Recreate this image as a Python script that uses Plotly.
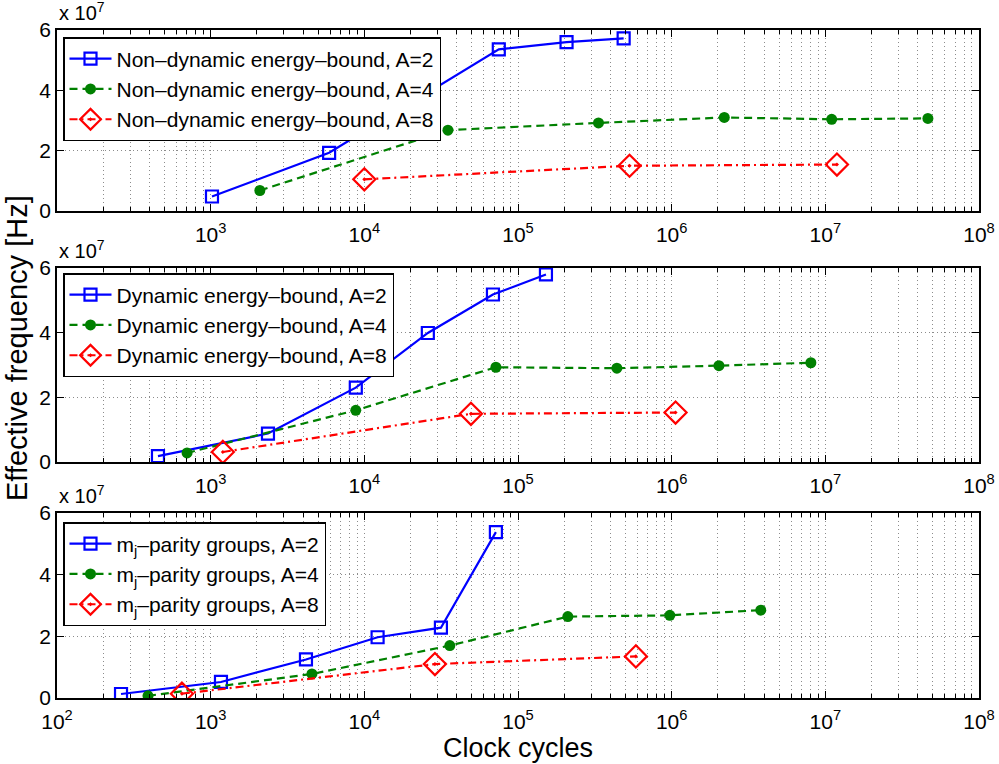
import plotly.graph_objects as go

# ---------------- data (x: clock cycles, y: effective frequency in units of 1e7 Hz)
nd_a2_x = [1020, 5900, 75000, 207000, 487000]
nd_a2_y = [0.48, 1.93, 5.36, 5.60, 5.72]
nd_a4_x = [2090, 35000, 334000, 2.2e6, 1.1e7, 4.65e7]
nd_a4_y = [0.68, 2.68, 2.92, 3.10, 3.04, 3.07]
nd_a8_x = [1.0e4, 532000, 1.19e7]
nd_a8_y = [1.05, 1.50, 1.54]

dy_a2_x = [454, 2360, 8800, 25900, 68700, 152000]
dy_a2_y = [0.18, 0.88, 2.30, 3.99, 5.18, 5.80]
dy_a4_x = [702, 8800, 71800, 440000, 2.03e6, 8.05e6]
dy_a4_y = [0.28, 1.60, 2.93, 2.90, 2.98, 3.07]
dy_a8_x = [1200, 49400, 1.06e6]
dy_a8_y = [0.31, 1.49, 1.53]

mj_a2_x = [261, 1167, 4170, 12200, 31500, 71800]
mj_a2_y = [0.13, 0.52, 1.25, 1.97, 2.28, 5.38]
mj_a4_x = [391, 4560, 36000, 211000, 973000, 3.8e6]
mj_a4_y = [0.07, 0.78, 1.70, 2.64, 2.68, 2.85]
mj_a8_x = [650, 28800, 585000]
mj_a8_y = [0.14, 1.10, 1.35]

names_nd = ["Non\u2013dynamic energy\u2013bound, A=2", "Non\u2013dynamic energy\u2013bound, A=4", "Non\u2013dynamic energy\u2013bound, A=8"]
names_dy = ["Dynamic energy\u2013bound, A=2", "Dynamic energy\u2013bound, A=4", "Dynamic energy\u2013bound, A=8"]
names_mj = ["m<sub>j</sub>\u2013parity groups, A=2", "m<sub>j</sub>\u2013parity groups, A=4", "m<sub>j</sub>\u2013parity groups, A=8"]

y_ticks = [0, 2, 4, 6]
x_decades = [1e2, 1e3, 1e4, 1e5, 1e6, 1e7, 1e8]
x_labels_full = ["10<sup>2</sup>", "10<sup>3</sup>", "10<sup>4</sup>", "10<sup>5</sup>",
                 "10<sup>6</sup>", "10<sup>7</sup>", "10<sup>8</sup>"]
x_labels_top = [""] + x_labels_full[1:]

W, H = 999, 764
FONT = "Liberation Sans, Arial, Helvetica, sans-serif"

BLUE, GREEN, RED = "#0000FF", "#008000", "#FF0000"

fig = go.Figure()

panels = [
    (nd_a2_x, nd_a2_y, nd_a4_x, nd_a4_y, nd_a8_x, nd_a8_y, names_nd, "x", "y", "legend"),
    (dy_a2_x, dy_a2_y, dy_a4_x, dy_a4_y, dy_a8_x, dy_a8_y, names_dy, "x2", "y2", "legend2"),
    (mj_a2_x, mj_a2_y, mj_a4_x, mj_a4_y, mj_a8_x, mj_a8_y, names_mj, "x3", "y3", "legend3"),
]

for (x2, y2, x4, y4, x8, y8, names, xa, ya, lg) in panels:
    fig.add_trace(go.Scatter(x=x2, y=y2, name=names[0], xaxis=xa, yaxis=ya, legend=lg,
                             mode="lines+markers",
                             line=dict(color=BLUE, width=2.2),
                             marker=dict(symbol="square-open", size=12, color=BLUE,
                                         line=dict(width=2.2, color=BLUE))))
    fig.add_trace(go.Scatter(x=x4, y=y4, name=names[1], xaxis=xa, yaxis=ya, legend=lg,
                             mode="lines+markers",
                             line=dict(color=GREEN, width=2.2, dash="8px,5px"),
                             marker=dict(symbol="circle", size=11, color=GREEN)))
    fig.add_trace(go.Scatter(x=x8, y=y8, name=names[2], xaxis=xa, yaxis=ya, legend=lg,
                             mode="lines+markers",
                             line=dict(color=RED, width=2.2, dash="8px,4px,2px,4px"),
                             marker=dict(symbol="diamond-open-dot", size=17, color=RED,
                                         line=dict(width=2.2, color=RED))))

# pixel geometry of plot areas
x_left, x_right = 57, 979
panel_px = [(30, 211), (268, 462), (513, 698)]
legend_top_px = [37, 273, 522]

minor_vals = [k * 10 ** d for d in range(2, 8) for k in range(2, 10)]

grid_kw = dict(gridcolor="rgba(0,0,0,0.45)", gridwidth=1, griddash="1px,3px")

layout = dict(
    width=W, height=H,
    margin=dict(l=0, r=0, t=0, b=0),
    paper_bgcolor="white", plot_bgcolor="white",
    font=dict(family=FONT, size=20, color="black"),
    showlegend=True,
)

annotations = []
for i, (top, bot) in enumerate(panel_px):
    sfx = "" if i == 0 else str(i + 1)
    dom_y = [1 - bot / H, 1 - top / H]
    layout["xaxis" + sfx] = dict(
        type="log", range=[2, 8], domain=[x_left / W, x_right / W],
        anchor="y" + sfx,
        tickmode="array", tickvals=x_decades,
        ticktext=(x_labels_full if i == 2 else x_labels_top),
        ticks="inside", ticklen=7, tickwidth=1, tickcolor="black",
        showline=True, linecolor="black", linewidth=1.5, mirror="allticks",
        showgrid=True, **grid_kw,
        minor=dict(tickmode="array", tickvals=minor_vals, ticks="inside", ticklen=4,
                   tickcolor="black", showgrid=True, **grid_kw),
        tickfont=dict(family=FONT, size=21, color="black"),
        ticklabelstandoff=4,
        zeroline=False, automargin=False,
    )
    layout["yaxis" + sfx] = dict(
        range=[0, 6], domain=dom_y, anchor="x" + sfx,
        tickmode="array", tickvals=y_ticks, ticktext=[str(v) for v in y_ticks],
        ticks="inside", ticklen=7, tickwidth=1, tickcolor="black",
        showline=True, linecolor="black", linewidth=1.5, mirror="allticks",
        showgrid=True, **grid_kw,
        tickfont=dict(family=FONT, size=21, color="black"),
        zeroline=False, automargin=False,
    )
    lg = "legend" if i == 0 else "legend" + str(i + 1)
    layout[lg] = dict(
        x=63 / W, y=1 - legend_top_px[i] / H, xanchor="left", yanchor="top",
        xref="paper", yref="paper",
        bgcolor="white", bordercolor="black", borderwidth=1.5,
        font=dict(family=FONT, size=21, color="black"),
        tracegroupgap=0, itemwidth=42,
    )
    annotations.append(dict(
        text="x 10<sup>7</sup>", x=x_left / W, y=1 - (top - 4) / H,
        xref="paper", yref="paper", xanchor="left", yanchor="bottom",
        showarrow=False, font=dict(family=FONT, size=20, color="black")))

annotations.append(dict(text="Effective frequency [Hz]", x=17 / W, y=1 - 348 / H,
                        xref="paper", yref="paper", xanchor="center", yanchor="middle",
                        textangle=-90, showarrow=False,
                        font=dict(family=FONT, size=29, color="black")))
annotations.append(dict(text="Clock cycles", x=518 / W, y=1 - 748 / H,
                        xref="paper", yref="paper", xanchor="center", yanchor="middle",
                        showarrow=False,
                        font=dict(family=FONT, size=27, color="black")))
layout["annotations"] = annotations

fig.update_layout(**layout)
fig.write_html("out.html")
